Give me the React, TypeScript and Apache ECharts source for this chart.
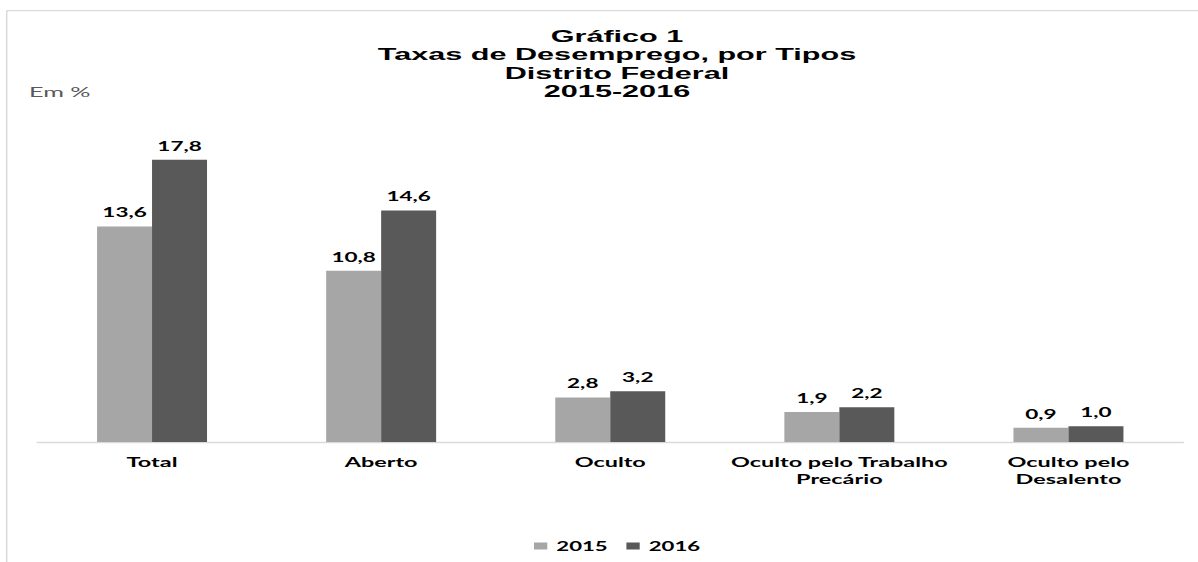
import React, { useEffect, useRef } from "react";
import * as echarts from "echarts";

const categories = [
  "Total",
  "Aberto",
  "Oculto",
  "Oculto pelo Trabalho\nPrecário",
  "Oculto pelo\nDesalento",
];
const seriesNames = ["2015", "2016"];
const values2015 = [13.6, 10.8, 2.8, 1.9, 0.9];
const values2016 = [17.8, 14.6, 3.2, 2.2, 1.0];
const titleLines = ["Gráfico 1", "Taxas de Desemprego, por Tipos", "Distrito Federal", "2015-2016"];
const unitLabel = "Em %";

const W = 665;
const S = 1198 / W;

export default function App() {
  const ref = useRef<HTMLDivElement>(null);
  useEffect(() => {
    document.body.style.overflow = "hidden";
    const chart = echarts.init(ref.current!, undefined, { renderer: "svg" });
    const fmt = (p: any) => Number(p.value).toFixed(1).replace(".", ",");
    const labelStyle = {
      show: true,
      position: "top",
      distance: 7,
      formatter: fmt,
      fontFamily: "Lato, sans-serif",
      fontWeight: "bold",
      fontSize: 12.5,
      lineHeight: 14,
      color: "#000",
    };
    chart.setOption({
      animation: false,
      title: {
        text: titleLines.join("\n"),
        left: 617 / S,
        top: 26.5,
        padding: 0,
        textAlign: "center",
        textStyle: {
          fontFamily: "'Liberation Sans', Arial, sans-serif",
          fontWeight: "bold",
          fontSize: 17,
          lineHeight: 18.5,
          color: "#000",
        },
      },
      graphic: [
        {
          type: "line",
          silent: true,
          shape: { x1: 6.7 / S, y1: 10.5, x2: 6.7 / S, y2: 600 },
          style: { stroke: "#d9d9d9", lineWidth: 0.8 },
        },
        {
          type: "line",
          silent: true,
          shape: { x1: 6.7 / S, y1: 10.7, x2: W + 10, y2: 10.7 },
          style: { stroke: "#d9d9d9", lineWidth: 1.3 },
        },
        {
          type: "text",
          left: 29 / S,
          top: 85,
          style: {
            text: unitLabel,
            fontFamily: "Lato, sans-serif",
            fontSize: 14,
            fill: "#595959",
          },
        },
      ],
      legend: {
        data: seriesNames,
        left: 534 / S,
        top: 540,
        padding: 0,
        itemWidth: 13.3 / S,
        itemHeight: 7,
        itemGap: 18.7 / S,
        icon: "rect",
        textStyle: {
          fontFamily: "Lato, sans-serif",
          fontWeight: "bold",
          fontSize: 12.3,
          color: "#000",
        },
      },
      grid: {
        left: 37.5 / S,
        right: (1198 - 1183) / S,
        top: 125,
        bottom: 120,
        containLabel: false,
      },
      xAxis: {
        type: "category",
        data: categories,
        axisTick: { show: false },
        axisLine: { lineStyle: { color: "#d9d9d9", width: 1.3 } },
        axisLabel: {
          interval: 0,
          margin: 11,
          fontFamily: "Lato, sans-serif",
          fontWeight: "bold",
          fontSize: 13,
          lineHeight: 17,
          color: "#000",
        },
      },
      yAxis: {
        type: "value",
        min: 0,
        max: 20,
        show: false,
        splitLine: { show: false },
      },
      series: [
        {
          name: seriesNames[0],
          type: "bar",
          data: values2015,
          barGap: "0%",
          barCategoryGap: "52%",
          itemStyle: { color: "#a6a6a6" },
          label: labelStyle,
        },
        {
          name: seriesNames[1],
          type: "bar",
          data: values2016,
          barGap: "0%",
          barCategoryGap: "52%",
          itemStyle: { color: "#595959" },
          label: labelStyle,
        },
      ],
    });
    return () => chart.dispose();
  }, []);
  return (
    <div
      ref={ref}
      style={{
        position: "absolute",
        left: 0,
        top: 0,
        width: W,
        height: 562,
        transform: `scaleX(${S})`,
        transformOrigin: "0 0",
        background: "#fff",
      }}
    />
  );
}
